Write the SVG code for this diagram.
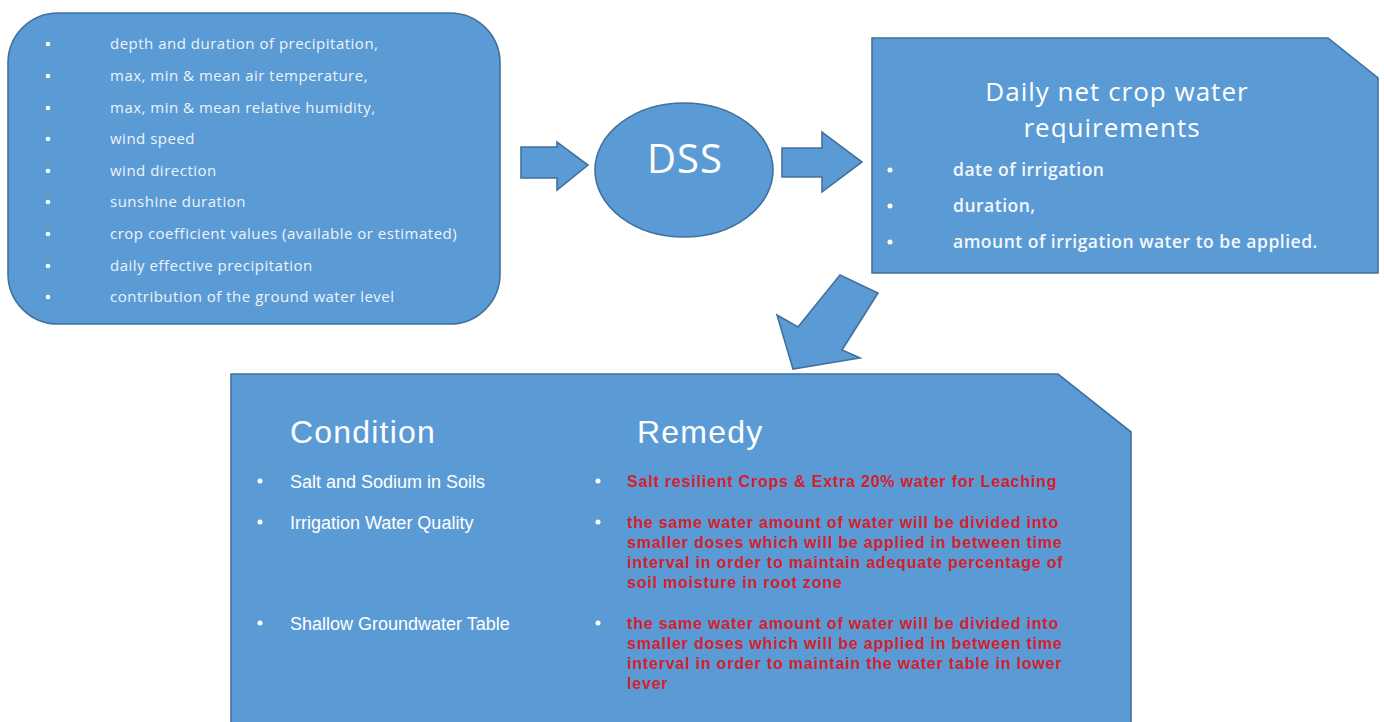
<svg xmlns="http://www.w3.org/2000/svg" width="1384" height="722" viewBox="0 0 1384 722">
<style>
.shape{fill:#5b9bd5;stroke:#41719c;stroke-width:1.6}
.li{font-family:"Open Sans","Liberation Sans",sans-serif;font-size:15px;letter-spacing:0.5px;fill:#eef3f9}
.bu{fill:#ffffff}
.rt{font-family:"Open Sans","Liberation Sans",sans-serif;font-size:17.5px;letter-spacing:0.5px;fill:#f4f7fb;font-weight:600}
.ttl{font-family:"Open Sans","Liberation Sans",sans-serif;fill:#ffffff}
.hd{font-family:"Liberation Sans",sans-serif;font-size:32px;letter-spacing:1.2px;fill:#ffffff}
.cond{font-family:"Liberation Sans",sans-serif;font-size:18px;fill:#ffffff}
.red{font-family:"Liberation Sans",sans-serif;font-size:16px;letter-spacing:0.8px;fill:#d4202c;font-weight:700}
</style>
<rect width="1384" height="722" fill="#ffffff"/>
<g id="inputs">
<rect class="shape" x="8" y="13" width="492" height="311" rx="50" ry="50"/>
<g class="li">
<text x="110" y="49">depth and duration of precipitation,</text>
<text x="110" y="81">max,  min &amp; mean air temperature,</text>
<text x="110" y="113">max, min &amp; mean relative humidity,</text>
<text x="110" y="144">wind speed</text>
<text x="110" y="176">wind direction</text>
<text x="110" y="207">sunshine duration</text>
<text x="110" y="239">crop coefficient values (available or estimated)</text>
<text x="110" y="271">daily effective precipitation</text>
<text x="110" y="302">contribution of the ground water level</text>
</g>
<g class="bu">
<circle cx="48" cy="44" r="2.3"/><circle cx="48" cy="76" r="2.3"/><circle cx="48" cy="108" r="2.3"/>
<circle cx="48" cy="139" r="2.3"/><circle cx="48" cy="171" r="2.3"/><circle cx="48" cy="202" r="2.3"/>
<circle cx="48" cy="234" r="2.3"/><circle cx="48" cy="266" r="2.3"/><circle cx="48" cy="297" r="2.3"/>
</g>
</g>
<g id="dss">
<ellipse class="shape" cx="684" cy="170" rx="89" ry="67"/>
<text class="ttl" x="685" y="173" font-size="40" letter-spacing="1" text-anchor="middle">DSS</text>
</g>
<g id="output">
<path class="shape" d="M872,38 H1328 L1378,78 V273 H872 Z"/>
<text class="ttl" x="1117" y="101" font-size="26" letter-spacing="1" text-anchor="middle">Daily net crop water</text>
<text class="ttl" x="1112" y="137" font-size="26" letter-spacing="1" text-anchor="middle">requirements</text>
<g class="rt">
<text x="953" y="176">date of irrigation</text>
<text x="953" y="212">duration,</text>
<text x="953" y="248">amount of irrigation water to be applied.</text>
</g>
<g class="bu">
<circle cx="890" cy="170" r="2.5"/><circle cx="890" cy="206" r="2.5"/><circle cx="890" cy="242" r="2.5"/>
</g>
</g>
<g id="remedies">
<path class="shape" d="M231,374 H1058 L1131,432 V730 H231 Z"/>
<text class="hd" x="290" y="443">Condition</text>
<text class="hd" x="637" y="443">Remedy</text>
<g class="cond">
<text x="290" y="488">Salt and Sodium in Soils</text>
<text x="290" y="529">Irrigation Water Quality</text>
<text x="290" y="630">Shallow Groundwater Table</text>
</g>
<g class="bu">
<circle cx="260" cy="481" r="2.5"/><circle cx="260" cy="522" r="2.5"/><circle cx="260" cy="623" r="2.5"/>
<circle cx="598" cy="481" r="2.5"/><circle cx="598" cy="522" r="2.5"/><circle cx="598" cy="623" r="2.5"/>
</g>
<g class="red">
<text x="627" y="487">Salt resilient Crops &amp; Extra 20% water for Leaching</text>
<text x="627" y="528">the same water amount of water will be divided into</text>
<text x="627" y="548">smaller doses which will be applied in between time</text>
<text x="627" y="568">interval in order to maintain adequate percentage of</text>
<text x="627" y="588">soil moisture in root zone</text>
<text x="627" y="629">the same water amount of water will be divided into</text>
<text x="627" y="649">smaller doses which will be applied in between time</text>
<text x="627" y="669">interval in order to maintain the water table in lower</text>
<text x="627" y="689">lever</text>
</g>
</g>
<g id="connectors">
<path class="shape" d="M521,147 H557 V142 L588,165 L557,190 V178 H521 Z"/>
<path class="shape" d="M782,148 H822 V132 L862,162 L822,192 V177 H782 Z"/>
<path class="shape" d="M840,275 L878,293 L842,350 L860,358 L793,369 L777,315 L798,327 Z"/>
</g>
</svg>
